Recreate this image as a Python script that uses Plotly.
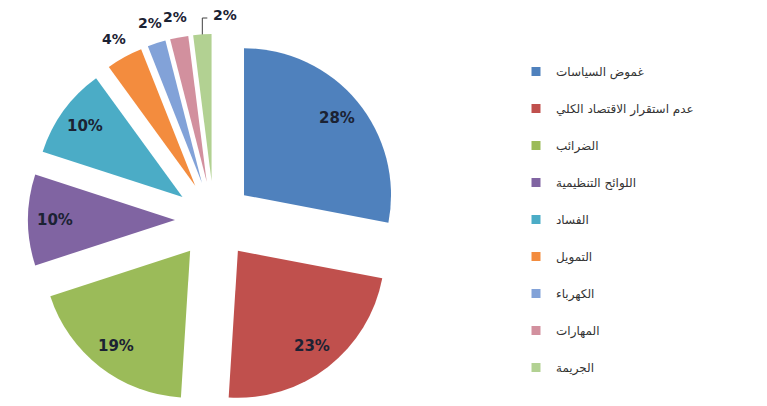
import math
import plotly.graph_objects as go

# Obstacles reported by firms (share of responses, %)
labels = [
    "غموض السياسات",
    "عدم استقرار الاقتصاد الكلي",
    "الضرائب",
    "اللوائح التنظيمية",
    "الفساد",
    "التمويل",
    "الكهرباء",
    "المهارات",
    "الجريمة",
]
values = [28, 23, 19, 10, 10, 4, 2, 2, 2]
colors = ["#4F81BD", "#C0504D", "#9BBB59", "#8064A2", "#4BACC6",
          "#F38C3E", "#82A2D8", "#D2909E", "#B2D192"]
n_inside = 5  # the first slices carry their label inside the wedge

W, H = 767, 406
cx, cy, r, pull = 214, 220, 147, 0.265
box = 2 * r * (1 + pull)
lab_font = dict(family="DejaVu Sans", size=15, color="#1B2233", weight="bold")


def px(x, y):
    """pixel position -> paper coordinates (margins are zero)"""
    return x / W, 1 - y / H


fig = go.Figure()
fig.add_trace(go.Pie(
    labels=labels,
    values=values,
    sort=False,
    direction="clockwise",
    rotation=0,
    pull=pull,
    marker=dict(colors=colors, line=dict(width=0)),
    textinfo="none",
    showlegend=False,
    hoverinfo="skip",
    domain=dict(
        x=[(cx - box / 2) / W, (cx + box / 2) / W],
        y=[max(0, 1 - (cy + box / 2) / H), 1 - (cy - box / 2) / H],
    ),
))

# Percentage labels placed along each wedge's bisector
total = sum(values)
start = 0.0
d = r * pull
for i, v in enumerate(values):
    mid = math.radians((start + v / 2) / total * 360)
    start += v
    ux, uy = math.sin(mid), -math.cos(mid)
    text = f"{v}%"
    if i < n_inside:
        dist = d + 0.82 * r
        x, y = px(cx + ux * dist, cy + uy * dist)
        fig.add_annotation(x=x, y=y, xref="paper", yref="paper", text=text,
                           showarrow=False, xanchor="center", yanchor="middle",
                           font=lab_font)
    elif i < len(values) - 1:
        dist = r + d + 21
        x, y = px(cx + ux * dist, cy + uy * dist)
        fig.add_annotation(x=x, y=y, xref="paper", yref="paper", text=text,
                           showarrow=False, xanchor="center", yanchor="middle",
                           font={**lab_font, "size": 14})
    else:
        # last, narrowest wedge: elbow leader line up and to the right
        ex, ey = cx + ux * (r + d), cy + uy * (r + d)
        top = 18
        x0, y0 = px(ex, ey)
        x1, y1 = px(ex, top)
        x2, _ = px(ex + 5, top)
        fig.add_shape(type="path", xref="paper", yref="paper",
                      path=f"M {x0} {y0} L {x1} {y1} L {x2} {y1}",
                      line=dict(color="#404040", width=1))
        tx, ty = px(ex + 9, top - 3)
        fig.add_annotation(x=tx, y=ty, xref="paper", yref="paper", text=text,
                           showarrow=False, xanchor="left", yanchor="middle",
                           font={**lab_font, "size": 14})

# Legend entries as square markers, one group per category for even spacing
for i, (lab, col) in enumerate(zip(labels, colors)):
    fig.add_trace(go.Scatter(
        x=[None], y=[None], mode="markers", name=lab,
        marker=dict(symbol="square", size=9, color=col),
        legendgroup=f"g{i}", showlegend=True, hoverinfo="skip",
    ))

fig.update_layout(
    width=W, height=H,
    margin=dict(l=0, r=0, t=0, b=0, autoexpand=False),
    paper_bgcolor="white", plot_bgcolor="white",
    xaxis=dict(visible=False), yaxis=dict(visible=False),
    legend=dict(
        x=516 / W, y=1 - 57 / H, xanchor="left", yanchor="top",
        font=dict(family="DejaVu Sans", size=12, color="#333333"),
        tracegroupgap=18, itemwidth=30, maxheight=1,
        bgcolor="rgba(0,0,0,0)",
    ),
)

fig.write_html("out.html")
